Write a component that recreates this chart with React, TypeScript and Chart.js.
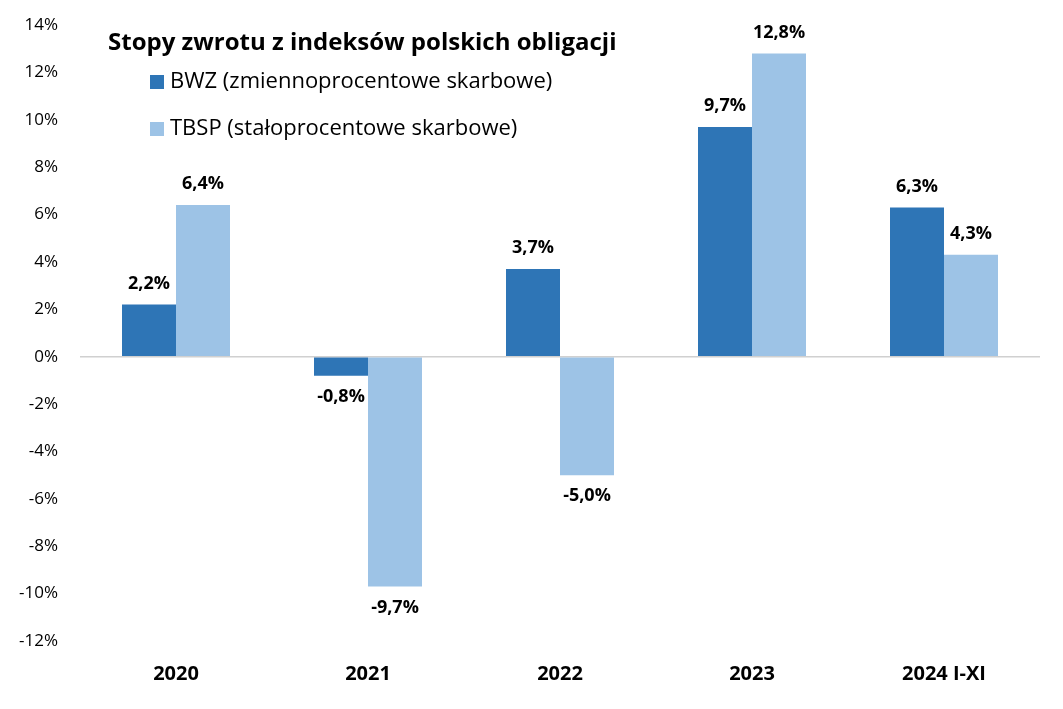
import React, { useEffect, useRef } from "react";
import { Chart, registerables } from "chart.js";

Chart.register(...registerables);

const categories = ["2020", "2021", "2022", "2023", "2024 I-XI"];
const bwzValues = [2.2, -0.8, 3.7, 9.7, 6.3];
const tbspValues = [6.4, -9.7, -5.0, 12.8, 4.3];
const seriesNames = ["BWZ (zmiennoprocentowe skarbowe)", "TBSP (stałoprocentowe skarbowe)"];
const seriesColors = ["#2E75B6", "#9DC3E6"];
const chartTitle = "Stopy zwrotu z indeksów polskich obligacji";
const yMin = -12;
const yMax = 14;
const yStep = 2;

const FONT = "'Open Sans', 'DejaVu Sans', sans-serif";

const fmt = (v: number) => v.toFixed(1).replace(".", ",") + "%";

const labelsPlugin = {
  id: "valueLabels",
  afterDatasetsDraw(chart: any) {
    const ctx = chart.ctx;
    ctx.save();
    ctx.font = `bold 18px ${FONT}`;
    ctx.fillStyle = "#000";
    ctx.textAlign = "center";
    ctx.textBaseline = "middle";
    chart.data.datasets.forEach((ds: any, di: number) => {
      const meta = chart.getDatasetMeta(di);
      meta.data.forEach((el: any, i: number) => {
        const v = ds.data[i];
        const y = v >= 0 ? el.y - 21 : el.y + 21;
        ctx.fillText(fmt(v), el.x, y);
      });
    });
    ctx.restore();
  },
};

const headerPlugin = {
  id: "header",
  afterDraw(chart: any) {
    const ctx = chart.ctx;
    ctx.save();
    ctx.fillStyle = "#000";
    ctx.textBaseline = "middle";
    ctx.textAlign = "left";
    ctx.font = `bold 24px ${FONT}`;
    ctx.fillText(chartTitle, 108, 43);
    ctx.font = `22px ${FONT}`;
    const rows = [82, 129];
    seriesNames.forEach((name, i) => {
      ctx.fillStyle = seriesColors[i];
      ctx.fillRect(150, rows[i] - 7, 14, 14);
      ctx.fillStyle = "#000";
      ctx.fillText(name, 170, rows[i]);
    });
    ctx.restore();
  },
};

export default function App() {
  const ref = useRef<HTMLCanvasElement | null>(null);
  useEffect(() => {
    if (!ref.current) return;
    const chart = new Chart(ref.current, {
      type: "bar",
      data: {
        labels: categories,
        datasets: [
          { label: seriesNames[0], data: bwzValues, backgroundColor: seriesColors[0], borderWidth: 0 },
          { label: seriesNames[1], data: tbspValues, backgroundColor: seriesColors[1], borderWidth: 0 },
        ],
      },
      options: {
        responsive: false,
        animation: false,
        devicePixelRatio: 1,
        layout: { padding: { left: 0, right: 23, top: 25, bottom: 0 } },
        datasets: { bar: { categoryPercentage: 0.5625, barPercentage: 1 } },
        plugins: { legend: { display: false }, title: { display: false }, tooltip: { enabled: false } },
        scales: {
          x: {
            grid: { display: false },
            border: { display: false },
            ticks: { color: "#000", font: { family: FONT, size: 20, weight: "bold" }, padding: 13 },
            afterFit(scale: any) { scale.height = 68; scale.paddingLeft = 0; scale.paddingRight = 0; },
          },
          y: {
            min: yMin,
            max: yMax,
            border: { display: false },
            grid: {
              drawTicks: false,
              lineWidth: 1.5,
              color: (c: any) => (c.tick && c.tick.value === 0 ? "#D0D0D0" : "rgba(0,0,0,0)"),
            },
            ticks: {
              stepSize: yStep,
              color: "#000",
              padding: 22,
              font: { family: FONT, size: 17 },
              callback: (v: any) => v + "%",
            },
            afterFit(scale: any) { scale.width = 80; scale.paddingTop = 0; scale.paddingBottom = 0; },
          },
        },
      },
      plugins: [labelsPlugin, headerPlugin],
    });
    return () => chart.destroy();
  }, []);
  return (
    <div style={{ position: "fixed", left: 0, top: 0, width: 1063, height: 709, background: "#fff" }}>
      <canvas ref={ref} width={1063} height={709} />
    </div>
  );
}
